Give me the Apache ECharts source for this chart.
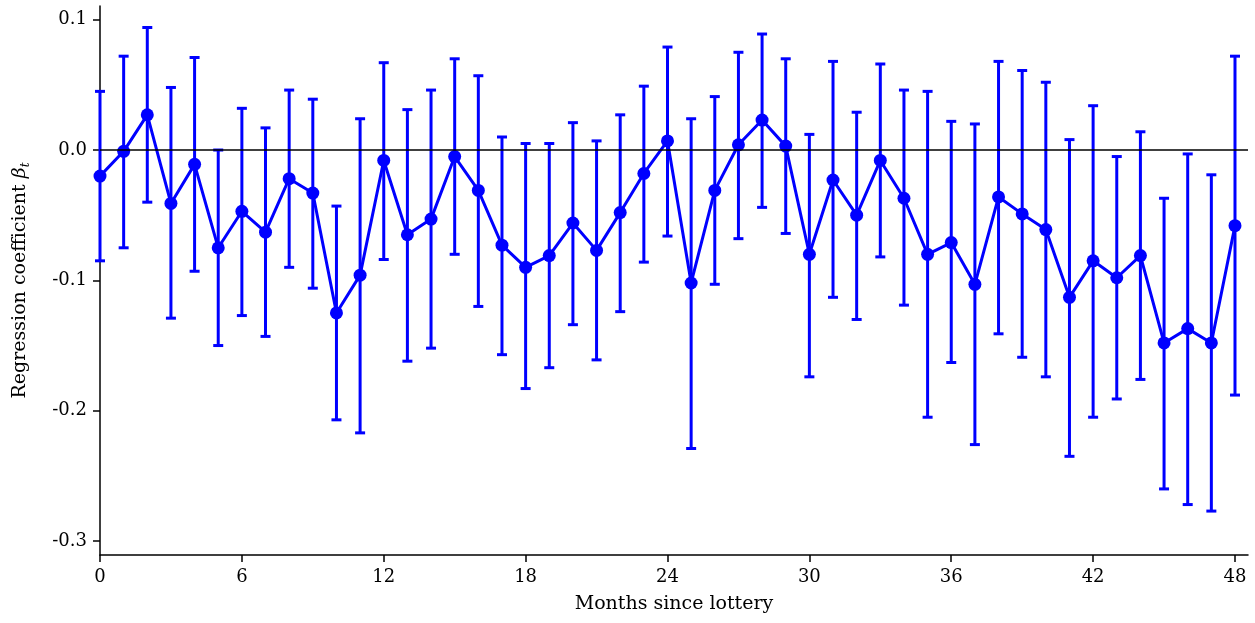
<!DOCTYPE html>
<html>
<head>
<meta charset="utf-8">
<title>Regression coefficients by month</title>
<script src="https://cdn.jsdelivr.net/npm/echarts@6/dist/echarts.min.js"></script>
<style>
  html, body { margin: 0; padding: 0; background: #fff; }
  #chart { width: 1255px; height: 623px; }
</style>
</head>
<body>
<div id="chart"></div>
<script>
// months since the lottery
const months = [
  0, 1, 2, 3, 4, 5, 6, 7, 8, 9, 10, 11, 12, 13, 14, 15, 16, 17, 18, 19, 20, 21, 22, 23, 24,
  25, 26, 27, 28, 29, 30, 31, 32, 33, 34, 35, 36, 37, 38, 39, 40, 41, 42, 43, 44, 45, 46, 47, 48
]
// point estimates
const beta = [
  -0.020, -0.001, 0.027, -0.041, -0.011, -0.075, -0.047, -0.063, -0.022, -0.033,
  -0.125, -0.096, -0.008, -0.065, -0.053, -0.005, -0.031, -0.073, -0.090, -0.081,
  -0.056, -0.077, -0.048, -0.018, 0.007, -0.102, -0.031, 0.004, 0.023, 0.003,
  -0.080, -0.023, -0.050, -0.008, -0.037, -0.080, -0.071, -0.103, -0.036, -0.049,
  -0.061, -0.113, -0.085, -0.098, -0.081, -0.148, -0.137, -0.148, -0.058
]
// confidence interval, upper end
const upper = [
  0.045, 0.072, 0.094, 0.048, 0.071, 0.000, 0.032, 0.017, 0.046, 0.039,
  -0.043, 0.024, 0.067, 0.031, 0.046, 0.070, 0.057, 0.010, 0.005, 0.005,
  0.021, 0.007, 0.027, 0.049, 0.079, 0.024, 0.041, 0.075, 0.089, 0.070,
  0.012, 0.068, 0.029, 0.066, 0.046, 0.045, 0.022, 0.020, 0.068, 0.061,
  0.052, 0.008, 0.034, -0.005, 0.014, -0.037, -0.003, -0.019, 0.072
]
// confidence interval, lower end
const lower = [
  -0.085, -0.075, -0.040, -0.129, -0.093, -0.150, -0.127, -0.143, -0.090, -0.106,
  -0.207, -0.217, -0.084, -0.162, -0.152, -0.080, -0.120, -0.157, -0.183, -0.167,
  -0.134, -0.161, -0.124, -0.086, -0.066, -0.229, -0.103, -0.068, -0.044, -0.064,
  -0.174, -0.113, -0.130, -0.082, -0.119, -0.205, -0.163, -0.226, -0.141, -0.159,
  -0.174, -0.235, -0.205, -0.191, -0.176, -0.260, -0.272, -0.277, -0.188
]
const xTicks = [0, 6, 12, 18, 24, 30, 36, 42, 48]
const yTicks = [-0.3, -0.2, -0.1, 0.0, 0.1]

const blue = '#0000ff'
const font = 'DejaVu Serif'

const chart = echarts.init(document.getElementById('chart'))

const pointData = months.map((m, i) => [m, beta[i]])
const barData = months.map((m, i) => [m, lower[i], upper[i]])

chart.setOption({
  animation: false,
  grid: { left: 100, right: 7, top: 6, bottom: 68 },
  xAxis: {
    type: 'value',
    min: 0,
    max: 48.55,
    name: 'Months since lottery',
    nameLocation: 'middle',
    nameGap: 40,
    nameTextStyle: { fontFamily: font, fontSize: 19, color: '#000' },
    axisLine: { onZero: false, lineStyle: { color: '#000', width: 1.5 } },
    axisTick: { show: true, customValues: xTicks, length: 7, lineStyle: { color: '#000', width: 1.5 } },
    axisLabel: { customValues: xTicks, margin: 13, fontFamily: font, fontSize: 18, color: '#000' },
    splitLine: { show: false }
  },
  yAxis: {
    type: 'value',
    min: -0.3107,
    max: 0.1105,
    name: '{a|Regression coefficient }{b|β}{c|t}',
    nameLocation: 'middle',
    nameRotate: 90,
    nameGap: 68,
    nameTextStyle: {
      fontFamily: font,
      fontSize: 19,
      color: '#000',
      rich: {
        a: { fontFamily: font, fontSize: 19, color: '#000', lineHeight: 24 },
        b: { fontFamily: font, fontSize: 19, fontStyle: 'italic', color: '#000', lineHeight: 24 },
        c: { fontFamily: font, fontSize: 12, fontStyle: 'italic', color: '#000', verticalAlign: 'bottom', lineHeight: 24 }
      }
    },
    axisLine: { show: true, onZero: false, lineStyle: { color: '#000', width: 1.5 } },
    axisTick: { show: true, customValues: yTicks, length: 7, lineStyle: { color: '#000', width: 1.5 } },
    axisLabel: {
      customValues: yTicks,
      margin: 13,
      fontFamily: font,
      fontSize: 18,
      color: '#000',
      formatter: v => v.toFixed(1)
    },
    splitLine: { show: false }
  },
  series: [
    {
      type: 'custom',
      name: 'ci',
      data: barData,
      z: 2,
      renderItem: (params, api) => {
        const x = api.value(0)
        const lo = api.coord([x, api.value(1)])
        const hi = api.coord([x, api.value(2)])
        const w = 5
        const style = { stroke: blue, lineWidth: 3, fill: null }
        return {
          type: 'group',
          children: [
            { type: 'line', shape: { x1: hi[0], y1: hi[1], x2: lo[0], y2: lo[1] }, style },
            { type: 'line', shape: { x1: hi[0] - w, y1: hi[1], x2: hi[0] + w, y2: hi[1] }, style },
            { type: 'line', shape: { x1: lo[0] - w, y1: lo[1], x2: lo[0] + w, y2: lo[1] }, style }
          ]
        }
      }
    },
    {
      type: 'line',
      name: 'beta',
      data: pointData,
      z: 3,
      symbol: 'circle',
      symbolSize: 13,
      itemStyle: { color: blue },
      lineStyle: { color: blue, width: 3 },
      markLine: {
        silent: true,
        symbol: 'none',
        label: { show: false },
        lineStyle: { color: '#000', width: 1.5, type: 'solid' },
        data: [{ yAxis: 0 }]
      }
    }
  ]
})
</script>
</body>
</html>
